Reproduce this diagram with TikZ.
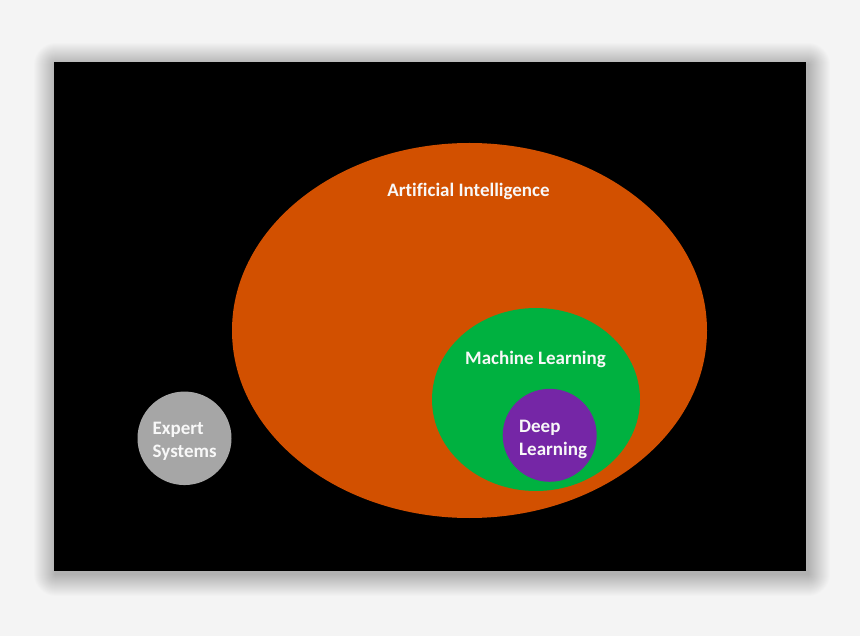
\documentclass[tikz,border=0pt]{standalone}
\usepackage{fontspec}
\setmainfont{Carlito}[Ligatures=NoCommon]
\usetikzlibrary{shapes.geometric}
\definecolor{bgc}{HTML}{F4F4F4}
\definecolor{aiorange}{HTML}{D25000}
\definecolor{mlgreen}{HTML}{00B140}
\definecolor{dlpurple}{HTML}{7526A6}
\definecolor{esgray}{HTML}{A6A6A6}
\definecolor{txt}{HTML}{F8F8F8}
\tikzset{
  blob/.style={ellipse, inner sep=0pt, outer sep=0pt, draw=none},
  lbl/.style={text=txt, font=\fontsize{19}{23}\selectfont\bfseries, inner sep=0pt},
}
\begin{document}
\begin{tikzpicture}[x=1pt,y=-1pt]
\useasboundingbox[fill=bgc] (0,0) rectangle (860,636);
% soft shadow
\foreach \i in {1,...,22}{
  \fill[black, opacity=0.012, rounded corners=\i pt] (54-\i+2,62-\i+3) rectangle (806+\i+2,571+\i+3);
}
\fill[black] (54,62) rectangle (806,571);
\node[blob, fill=aiorange, minimum width=475pt, minimum height=375pt] (ai) at (469.5,330.5) {};
\node[blob, fill=mlgreen, minimum width=208pt, minimum height=183pt] (ml) at (536,399.5) {};
\node[blob, fill=dlpurple, minimum width=94pt, minimum height=93pt] (dl) at (549.7,435.3) {};
\node[blob, fill=esgray, minimum width=94pt, minimum height=93.5pt] (es) at (184.5,438.3) {};
\node[lbl] (ait) at (468.5,191.5) {Artificial Intelligence};
\node[lbl] (mlt) at (535.5,359) {Machine Learning};
\node[lbl, align=left, anchor=west] (dlt) at (519,439) {Deep\\Learning};
\node[lbl, align=left, anchor=west] (est) at (152.5,441.5) {Expert\\Systems};
\end{tikzpicture}
\end{document}
